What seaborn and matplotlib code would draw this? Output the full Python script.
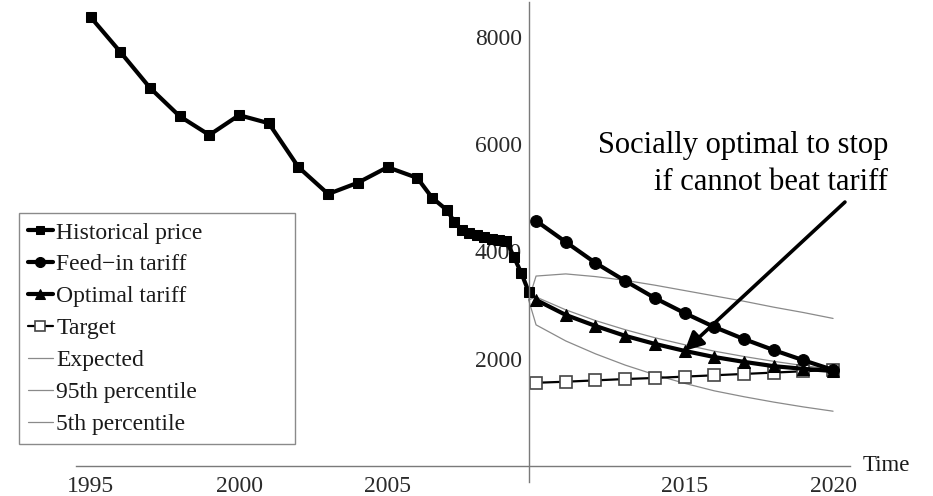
import matplotlib
matplotlib.use("Agg")
import matplotlib.pyplot as plt
import seaborn as sns
from matplotlib.ticker import MultipleLocator, FixedLocator, FixedFormatter

# Historical module price (annual, then quarterly from mid-2006)
hist_years = [1995, 1996, 1997, 1998, 1999, 2000, 2001, 2002, 2003, 2004, 2005,
              2006, 2006.5, 2007, 2007.25, 2007.5, 2007.75, 2008, 2008.25,
              2008.5, 2008.75, 2009, 2009.25, 2009.5, 2009.75]
hist_price = [8370, 7720, 7050, 6520, 6170, 6540, 6390, 5570, 5070, 5280, 5570,
              5370, 5000, 4770, 4550, 4400, 4340, 4310, 4270, 4240, 4220,
              4200, 3900, 3600, 3250]

# Policy paths, 2010-2020
proj_years = [2010, 2011, 2012, 2013, 2014, 2015, 2016, 2017, 2018, 2019, 2020]
feed_in = [4570, 4175, 3785, 3450, 3130, 2850, 2590, 2365, 2160, 1970, 1790]
optimal = [3095, 2815, 2610, 2425, 2275, 2145, 2030, 1940, 1860, 1810, 1770]
target = [1550, 1570, 1595, 1620, 1640, 1665, 1690, 1715, 1740, 1765, 1790]

# Simulated price distribution
band_years = [2009.75, 2010, 2011, 2012, 2013, 2014, 2015, 2016, 2017, 2018, 2019, 2020]
expected = [3095, 3150, 2910, 2710, 2540, 2390, 2260, 2140, 2040, 1950, 1870, 1800]
pct95 = [3095, 3540, 3580, 3530, 3460, 3370, 3270, 3170, 3070, 2960, 2860, 2750]
pct5 = [3095, 2630, 2330, 2090, 1880, 1700, 1540, 1400, 1290, 1190, 1100, 1020]

sns.set_theme(style="white")
plt.rcParams["font.family"] = ["Liberation Serif", "DejaVu Serif"]

W, H = 933, 496
fig = plt.figure(figsize=(W / 100, H / 100), dpi=100)
ax = fig.add_axes([76 / W, (H - 482) / H, 774 / W, 480 / H])

thin = dict(color="#8a8a8a", lw=0.9, estimator=None, errorbar=None)
sns.lineplot(x=band_years, y=expected, ax=ax, label="Expected", **thin)
sns.lineplot(x=band_years, y=pct95, ax=ax, label="95th percentile", **thin)
sns.lineplot(x=band_years, y=pct5, ax=ax, label="5th percentile", **thin)

sns.lineplot(x=proj_years, y=target, ax=ax, color="black", lw=1.6,
             marker="s", markersize=8, markerfacecolor="white",
             markeredgecolor="#444444", markeredgewidth=1.2,
             estimator=None, errorbar=None, label="Target")
sns.lineplot(x=proj_years, y=optimal, ax=ax, color="black", lw=3.0,
             marker="^", markersize=8, markeredgecolor="black",
             estimator=None, errorbar=None, label="Optimal tariff")
sns.lineplot(x=proj_years, y=feed_in, ax=ax, color="black", lw=3.0,
             marker="o", markersize=8.5, markeredgecolor="black",
             estimator=None, errorbar=None, label="Feed\u2212in tariff")
sns.lineplot(x=hist_years, y=hist_price, ax=ax, color="black", lw=3.0,
             marker="s", markersize=7.5, markeredgecolor="black",
             estimator=None, errorbar=None, label="Historical price")

ax.set_xlim(1994.51, 2020.57)
ax.set_ylim(-300, 8650)
ax.set_xlabel("")
ax.set_ylabel("")

# Axes crossing inside the plot area
ax.spines["left"].set_position(("data", 2009.75))
ax.spines["bottom"].set_position(("data", 0))
for s in ("top", "right"):
    ax.spines[s].set_visible(False)
for s in ("left", "bottom"):
    ax.spines[s].set_color("#7a7a7a")
    ax.spines[s].set_linewidth(1.0)

xt = [1995, 2000, 2005, 2010, 2015, 2020]
ax.xaxis.set_major_locator(FixedLocator(xt))
ax.xaxis.set_major_formatter(FixedFormatter(["1995", "2000", "2005", "", "2015", "2020"]))
ax.xaxis.set_minor_locator(MultipleLocator(1))
ax.yaxis.set_major_locator(FixedLocator([2000, 4000, 6000, 8000]))
ax.yaxis.set_minor_locator(MultipleLocator(500))

ax.tick_params(which="both", direction="in", color="#7a7a7a", labelcolor="#2a2a2a",
               labelsize=17, width=0.9)
ax.tick_params(which="major", length=6)
ax.tick_params(which="minor", length=3.5)
ax.tick_params(axis="x", pad=7)
ax.tick_params(axis="y", pad=5)

ax.text(2021.0, 0, "Time", ha="left", va="center", fontsize=16.5, color="#1a1a1a")

# Annotation
ax.annotate("", xy=(proj_years[5], optimal[5]), xytext=(2020.4, 4920),
            arrowprops=dict(arrowstyle="-|>", lw=2.6, color="black",
                            mutation_scale=28, shrinkA=0, shrinkB=0),
            annotation_clip=False)
fig.text(888 / W, 1 - 153 / H, "Socially optimal to stop", ha="right",
         va="baseline", fontsize=22, color="black")
fig.text(888 / W, 1 - 190 / H, "if cannot beat tariff", ha="right",
         va="baseline", fontsize=22, color="black")

# Legend in fixed order, fixed-width box
handles, labels = ax.get_legend_handles_labels()
order = ["Historical price", "Feed\u2212in tariff", "Optimal tariff", "Target",
         "Expected", "95th percentile", "5th percentile"]
hmap = dict(zip(labels, handles))
leg = ax.legend([hmap[k] for k in order], order, loc="upper left", mode="expand",
                bbox_to_anchor=(19 / W, 1 - 442 / H, 276 / W, 229 / H),
                bbox_transform=fig.transFigure,
                borderaxespad=0, fontsize=17, frameon=True, fancybox=False,
                framealpha=1, edgecolor="#8a8a8a", borderpad=0.38,
                handlelength=1.05, handletextpad=0.15, labelspacing=0.44,
                markerscale=0.85)
leg.get_frame().set_linewidth(1.0)
for t in leg.get_texts():
    t.set_color("#1a1a1a")

fig.savefig("out.png", dpi=100)
